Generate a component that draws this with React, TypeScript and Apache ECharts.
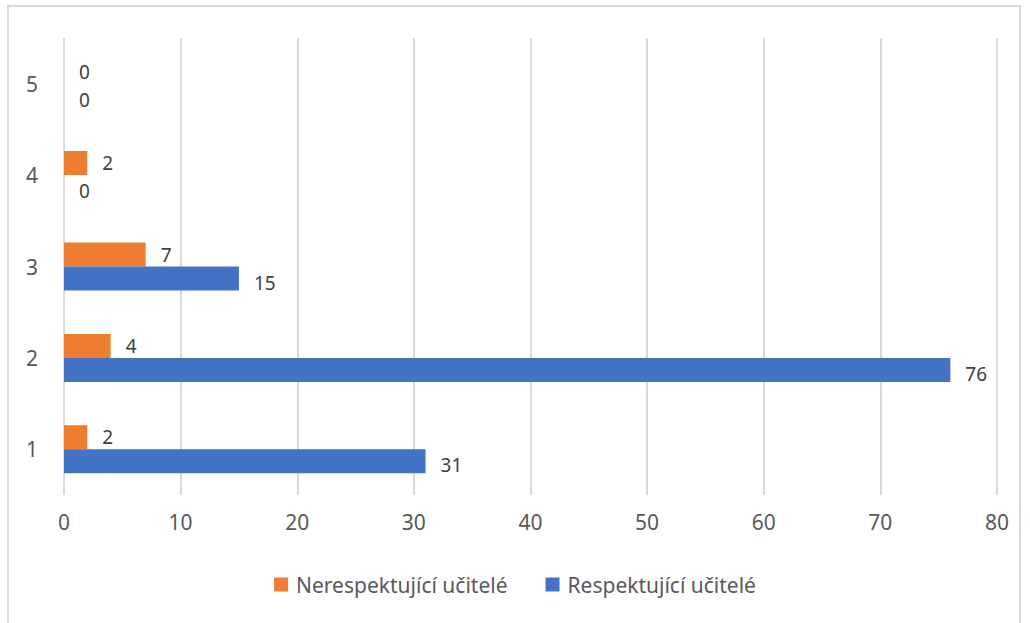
import React, { useEffect, useRef } from "react";
import * as echarts from "echarts";

const categories = ["1", "2", "3", "4", "5"];
const nerespektujici = [2, 4, 7, 2, 0];
const respektujici = [31, 76, 15, 0, 0];
const seriesNames = ["Nerespektující učitelé", "Respektující učitelé"];
const xTicks = { min: 0, max: 80, interval: 10 };

const FONT = "'Noto Sans', sans-serif";

export default function App() {
  const ref = useRef<HTMLDivElement>(null);
  useEffect(() => {
    if (!ref.current) return;
    const chart = echarts.init(ref.current, undefined, { renderer: "svg" });
    const label = (dy: number) => ({
      show: true,
      position: "right",
      distance: 15,
      offset: [0, dy],
      color: "#404040",
      fontSize: 19,
      lineHeight: 19,
      fontFamily: FONT,
    });
    chart.setOption({
      animation: false,
      textStyle: { fontFamily: FONT },
      graphic: [
        {
          type: "rect",
          shape: { x: 8, y: 6, width: 1012, height: 640 },
          style: { fill: "none", stroke: "#d9d9d9", lineWidth: 2 },
          silent: true,
        },
      ],
      grid: { left: 64, right: 33, top: 38, bottom: 128, containLabel: false },
      legend: {
        data: seriesNames,
        bottom: 23,
        left: "center",
        itemWidth: 14,
        itemHeight: 14,
        itemGap: 38,
        icon: "rect",
        textStyle: { color: "#595959", fontSize: 21, fontFamily: FONT, padding: [0, 0, 0, 3] },
      },
      xAxis: {
        type: "value",
        min: xTicks.min,
        max: xTicks.max,
        interval: xTicks.interval,
        axisLine: { show: false },
        axisTick: { show: false },
        splitLine: { lineStyle: { color: "#d9d9d9", width: 2 } },
        axisLabel: { color: "#595959", fontSize: 21, margin: 16, fontFamily: FONT },
      },
      yAxis: {
        type: "category",
        data: categories,
        axisLine: { show: false },
        axisTick: { show: false },
        axisLabel: { color: "#595959", fontSize: 21, margin: 26, fontFamily: FONT },
      },
      series: [
        {
          name: seriesNames[0],
          type: "bar",
          data: nerespektujici,
          barWidth: 24,
          barGap: "0%",
          itemStyle: { color: "#ED7D31" },
          label: label(0),
        },
        {
          name: seriesNames[1],
          type: "bar",
          data: respektujici,
          barWidth: 24,
          barGap: "0%",
          itemStyle: { color: "#4472C4" },
          label: label(4),
        },
      ],
    });
    return () => chart.dispose();
  }, []);
  return <div ref={ref} style={{ width: 1030, height: 623, position: "absolute", left: 0, top: 0 }} />;
}
